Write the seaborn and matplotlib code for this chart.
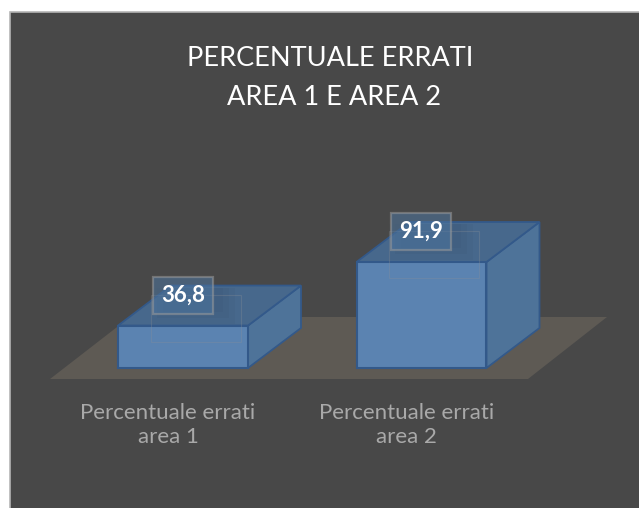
import matplotlib
matplotlib.use("Agg")
import matplotlib.pyplot as plt
from matplotlib.patches import Polygon, Rectangle
from matplotlib.transforms import IdentityTransform, ScaledTranslation
import seaborn as sns
import pandas as pd

categories = ["Percentuale errati\narea 1", "Percentuale errati\narea 2"]
values = [36.8, 91.9]
value_labels = ["36,8", "91,9"]
title = "PERCENTUALE ERRATI\n AREA 1 E AREA 2"

W, H = 639, 508
PANEL = "#484848"
FRONT = "#5b83b1"
SIDE = "#4e7399"
TOP = "#47688c"
EDGE = "#33598a"
FLOOR = "#5e5a54"
DX, DY = 53, 40

sns.set_theme(style="white")
plt.rcParams["font.family"] = ["Lato", "DejaVu Sans"]
fig = plt.figure(figsize=(W / 100, H / 100), dpi=100, facecolor="white")

# Panel runs off the right and bottom edges of the picture
fig.patches.append(Rectangle((10 / W, -10 / H), (W) / W, (H - 12 + 10) / H, transform=fig.transFigure,
                             facecolor=PANEL, edgecolor="#b5b5b5", linewidth=1.2, zorder=-5))

# Axes: x = categories, y = values. Baseline at y = 368 px, 1.153 px per unit
ax_left, ax_right, ax_top, ax_bottom = 10, 629, 12, 379
ax = fig.add_axes([ax_left / W, 1 - ax_bottom / H, (ax_right - ax_left) / W, (ax_bottom - ax_top) / H])
ax.patch.set_alpha(0)
df = pd.DataFrame({"cat": categories, "val": values})
sns.barplot(data=df, x="cat", y="val", ax=ax, color=FRONT, width=0.545, saturation=1,
            edgecolor=EDGE, linewidth=1.5, zorder=4)
cat_px = 238.5
ax.set_xlim((ax_left - 183) / cat_px, (ax_right - 183) / cat_px)
scale = 106 / 91.9
ax.set_ylim(-(ax_bottom - 368) / scale, (368 - ax_top) / scale)
ax.set_xlabel("")
ax.set_ylabel("")
ax.set_yticks([])
sns.despine(ax=ax, left=True, bottom=True)
ax.tick_params(axis="x", length=0, pad=17, labelcolor="#a9a9a9", labelsize=16)
shift = ScaledTranslation(-15 / 100, 0, fig.dpi_scale_trans)
for t in ax.get_xticklabels():
    t.set_linespacing(1.3)
    t.set_transform(t.get_transform() + shift)

fig.canvas.draw()
T = IdentityTransform()

# Floor
ax.add_patch(Polygon([(50, H - 379), (528, H - 379), (607, H - 317), (130, H - 317)], closed=True,
                     transform=T, facecolor=FLOOR, edgecolor="none", zorder=1))

for bar, label in list(zip(list(ax.patches), value_labels)):
    (x0, y0), (x1, y1) = ax.transData.transform(bar.get_bbox().get_points())
    ax.add_patch(Polygon([(x1, y0), (x1 + DX, y0 + DY), (x1 + DX, y1 + DY), (x1, y1)], closed=True, transform=T,
                         facecolor=SIDE, edgecolor=EDGE, linewidth=1.3, zorder=3))
    ax.add_patch(Polygon([(x0, y1), (x1, y1), (x1 + DX, y1 + DY), (x0 + DX, y1 + DY)], closed=True, transform=T,
                         facecolor=TOP, edgecolor=EDGE, linewidth=1.3, zorder=3))
    xc = (x0 + x1) / 2
    # Soft shadow behind the value label
    for grow, a in [(0, 0.05), (-6, 0.05), (-12, 0.05)]:
        ax.add_patch(Rectangle((xc - 32 - grow, y1 + 2 - grow), 84 + 2 * grow, 36 + grow, transform=T,
                               facecolor="#2c3a4a", alpha=a, edgecolor="none", zorder=5))
    ax.add_patch(Rectangle((xc - 32, y1 - 16), 90, 47, transform=T, facecolor="none",
                           edgecolor="#8a9097", alpha=0.3, linewidth=0.8, zorder=5))
    ax.add_patch(Rectangle((xc - 30, y1 + 12), 60, 37, transform=T, facecolor="#4d759f", alpha=0.55,
                           edgecolor="#9a9a9a", linewidth=1.6, zorder=6))
    ax.text(xc, y1 + 30.5, label, transform=T, ha="center", va="center", color="white",
            fontsize=16, fontweight="bold", zorder=7)

fig.text(330.5 / W, 1 - 78 / H, title, ha="center", va="center", color="white",
         fontsize=19.5, linespacing=1.7)
fig.savefig("out.png", dpi=100, facecolor="white")
